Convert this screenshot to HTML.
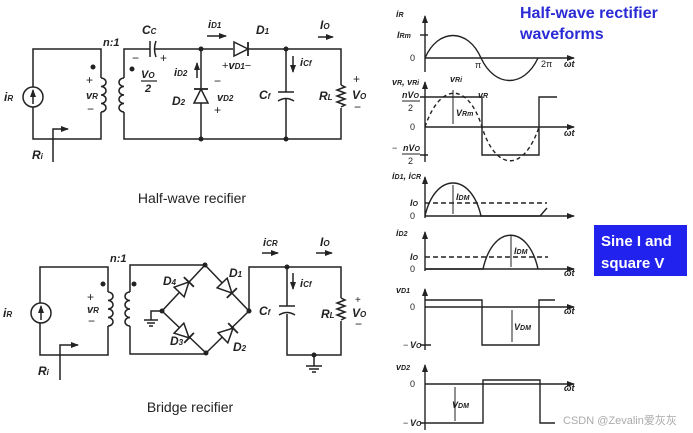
<!DOCTYPE html>
<html><head><style>
html,body{margin:0;padding:0;background:#fff}
svg{display:block}
text{font-family:"Liberation Sans",sans-serif;font-style:italic;font-weight:bold;fill:#222}
.n{font-style:normal;font-weight:normal}
</style></head><body>
<svg width="693" height="433" viewBox="0 0 693 433" xmlns="http://www.w3.org/2000/svg">
<defs>
<marker id="ar" markerWidth="8" markerHeight="8" refX="7" refY="4" orient="auto" markerUnits="userSpaceOnUse"><path d="M0,1 L8,4 L0,7 z" fill="#222"/></marker>
<g id="dio"><path d="M-7,-7 L7,0 L-7,7 z" fill="#fff" stroke="#222" stroke-width="1.5"/><path d="M7,-7 L7,7" stroke="#222" stroke-width="1.8"/></g>
</defs>
<g stroke="#222" stroke-width="1.5" fill="none">
<!-- HALF WAVE -->
<path d="M33,87 V49 H101 V78 M101,112 V139 H33 V107"/>
<circle cx="33" cy="97" r="10"/>
<path d="M33,104 V90" marker-end="url(#ar)"/>
<path d="M101,78 a5,4.25 0 0 1 0,8.5 a5,4.25 0 0 1 0,8.5 a5,4.25 0 0 1 0,8.5 a5,4.25 0 0 1 0,8.5"/>
<path d="M124,78 a5,4.25 0 0 0 0,8.5 a5,4.25 0 0 0 0,8.5 a5,4.25 0 0 0 0,8.5 a5,4.25 0 0 0 0,8.5"/>
<path d="M124,78 V49 H150 M155,49 H233 M124,112 V139 H341 V108 M341,85 V49 H240"/>
<path d="M150,41 V57"/><path d="M156,41 Q153,49 156,57"/>
<path d="M201,49 V139"/>
<path d="M286,49 V92 M286,99 V139 M278,92 H294 M278,101 Q286,96 294,101"/>
<path d="M341,85 l4,2 l-8,3 l8,3 l-8,3 l8,3 l-8,3 l8,3 l-4,2"/>
<path d="M53,162 V129 H68" marker-end="url(#ar)"/>
<path d="M207,36 H226" marker-end="url(#ar)"/>
<path d="M318,37 H333" marker-end="url(#ar)"/>
<path d="M197,78 V63" marker-end="url(#ar)"/>
<path d="M293,56 V72" marker-end="url(#ar)"/>
<!-- BRIDGE -->
<path d="M40,303 V267 H108 V292 M108,326 V355 H40 V323"/>
<circle cx="41" cy="313" r="10"/>
<path d="M41,320 V306" marker-end="url(#ar)"/>
<path d="M108,292 a5,4.25 0 0 1 0,8.5 a5,4.25 0 0 1 0,8.5 a5,4.25 0 0 1 0,8.5 a5,4.25 0 0 1 0,8.5"/>
<path d="M130,292 a5,4.25 0 0 0 0,8.5 a5,4.25 0 0 0 0,8.5 a5,4.25 0 0 0 0,8.5 a5,4.25 0 0 0 0,8.5"/>
<path d="M130,292 V265 H205 M205,265 L249,311 L206,353 L162,311 L205,265 M130,326 V354 H206"/>
<path d="M249,311 V267 H341 V298 M341,321 V355 H287 V314 M287,267 V306 M279,306 H295 M279,315 Q287,310 295,315"/>
<path d="M341,298 l4,2 l-8,3 l8,3 l-8,3 l8,3 l-8,3 l8,3 l-4,2"/>
<path d="M314,355 V366 M306,366 H322 M309,369 H319 M312,372 H316"/>
<path d="M162,311 H151 V320 M144,320 H158 M147,323 H155 M149,326 H153"/>
<path d="M60,380 V345 H78" marker-end="url(#ar)"/>
<path d="M262,253 H278" marker-end="url(#ar)"/>
<path d="M316,253 H332" marker-end="url(#ar)"/>
<path d="M293,273 V289" marker-end="url(#ar)"/>
</g>
<g fill="#222">
<circle cx="93" cy="67" r="2.5"/><circle cx="132" cy="69" r="2.5"/>
<circle cx="201" cy="49" r="2.5"/><circle cx="286" cy="49" r="2.5"/><circle cx="201" cy="139" r="2.5"/><circle cx="286" cy="139" r="2.5"/>
<circle cx="103" cy="284" r="2.5"/><circle cx="134" cy="284" r="2.5"/>
<circle cx="205" cy="265" r="2.5"/><circle cx="249" cy="311" r="2.5"/><circle cx="206" cy="353" r="2.5"/><circle cx="162" cy="311" r="2.5"/><circle cx="287" cy="267" r="2.5"/><circle cx="314" cy="355" r="2.5"/>
</g>
<use href="#dio" transform="translate(241,49)"/>
<use href="#dio" transform="translate(201,96) rotate(-90)"/>
<use href="#dio" transform="translate(184,287) rotate(-46)"/>
<use href="#dio" transform="translate(227,288) rotate(46)"/>
<use href="#dio" transform="translate(184,333) rotate(44)"/>
<use href="#dio" transform="translate(228,333) rotate(-44)"/>
<g font-size="12">
<text x="4" y="101">i<tspan font-size="8">R</tspan></text>
<text x="103" y="46" font-size="11">n:1</text>
<text x="86" y="84" class="n">+</text><text x="86" y="99" font-size="11">v<tspan font-size="8">R</tspan></text><text x="87" y="113" class="n">−</text>
<text x="142" y="34">C<tspan font-size="8">C</tspan></text>
<text x="132" y="62" class="n">−</text><text x="160" y="62" class="n">+</text>
<text x="141" y="78" font-size="11">V<tspan font-size="8">O</tspan></text><path d="M141,81 H157" stroke="#222" stroke-width="1.2"/><text x="145" y="92" font-size="11">2</text>
<text x="174" y="76" font-size="11">i<tspan font-size="8">D2</tspan></text>
<text x="172" y="105">D<tspan font-size="8">2</tspan></text>
<text x="214" y="85" class="n">−</text><text x="217" y="101" font-size="11">v<tspan font-size="8">D2</tspan></text><text x="214" y="114" class="n">+</text>
<text x="208" y="28" font-size="11">i<tspan font-size="8">D1</tspan></text>
<text x="256" y="34">D<tspan font-size="8">1</tspan></text>
<text x="222" y="69" font-size="11"><tspan class="n">+</tspan>v<tspan font-size="8">D1</tspan><tspan class="n">−</tspan></text>
<text x="320" y="29">I<tspan font-size="8">O</tspan></text>
<text x="300" y="66" font-size="11">i<tspan font-size="8">Cf</tspan></text>
<text x="259" y="99">C<tspan font-size="8">f</tspan></text>
<text x="319" y="100">R<tspan font-size="8">L</tspan></text>
<text x="353" y="83" class="n">+</text><text x="352" y="99">V<tspan font-size="8">O</tspan></text><text x="354" y="111" class="n">−</text>
<text x="32" y="159">R<tspan font-size="8">i</tspan></text>
<text x="3" y="317">i<tspan font-size="8">R</tspan></text>
<text x="110" y="262" font-size="11">n:1</text>
<text x="87" y="301" class="n">+</text><text x="87" y="313" font-size="11">v<tspan font-size="8">R</tspan></text><text x="88" y="325" class="n">−</text>
<text x="163" y="285">D<tspan font-size="8">4</tspan></text>
<text x="229" y="277">D<tspan font-size="8">1</tspan></text>
<text x="170" y="345">D<tspan font-size="8">3</tspan></text>
<text x="233" y="351">D<tspan font-size="8">2</tspan></text>
<text x="263" y="246" font-size="11">i<tspan font-size="8">CR</tspan></text>
<text x="320" y="246">I<tspan font-size="8">O</tspan></text>
<text x="300" y="287" font-size="11">i<tspan font-size="8">Cf</tspan></text>
<text x="259" y="315">C<tspan font-size="8">f</tspan></text>
<text x="321" y="318">R<tspan font-size="8">L</tspan></text>
<text x="355" y="303" class="n" font-size="10">+</text><text x="352" y="317">V<tspan font-size="8">O</tspan></text><text x="355" y="328" class="n">−</text>
<text x="38" y="375">R<tspan font-size="8">i</tspan></text>
</g>
<text x="192" y="203" class="n" font-size="14" text-anchor="middle">Half-wave recifier</text>
<text x="190" y="412" class="n" font-size="14" text-anchor="middle">Bridge recifier</text>
<!-- WAVEFORMS -->
<g stroke="#222" stroke-width="1.4" fill="none">
<path d="M425,72 V16" marker-end="url(#ar)"/><path d="M425,58 H574" marker-end="url(#ar)"/>
<path d="M420,35 H428"/>
<path d="M425,58 C438,28 468,28 481,58 C495,88 524,88 538,58"/>
<path d="M425,162 V82" marker-end="url(#ar)"/><path d="M425,127 H574" marker-end="url(#ar)"/>
<path d="M420,97 H425 M420,155 H428"/>
<path d="M425,97 H482 V155 H539 V97 H557"/>
<path d="M425,127 C440,82 468,82 482,127 C496,172 524,172 539,127" stroke-dasharray="4,3"/>
<path d="M453,110 V90 M453,110 V124" stroke-width="1"/>
<path d="M425,218 V177" marker-end="url(#ar)"/><path d="M425,216 H574" marker-end="url(#ar)"/>
<path d="M425,216 C435,172 471,172 481,216 H540 L547,208"/>
<path d="M425,203 H547" stroke-dasharray="5,3"/>
<path d="M453,185 V214" stroke-width="1"/>
<path d="M425,271 V232" marker-end="url(#ar)"/><path d="M425,269 H574" marker-end="url(#ar)"/>
<path d="M425,269 H483 C493,224 528,224 538,269"/>
<path d="M425,257 H548" stroke-dasharray="5,3"/>
<path d="M511,236 V267" stroke-width="1"/>
<path d="M425,350 V289" marker-end="url(#ar)"/><path d="M425,307 H574" marker-end="url(#ar)"/>
<path d="M425,300 H482 V345 H539 V300 H555 M420,345 H431"/>
<path d="M512,310 V342" stroke-width="1"/>
<path d="M425,430 V365" marker-end="url(#ar)"/><path d="M425,384 H574" marker-end="url(#ar)"/>
<path d="M425,423 H483 V380 H540 V423 H555 M420,423 H428"/>
<path d="M455,387 V421" stroke-width="1"/>
</g>
<g font-size="9">
<text x="396" y="17">i<tspan font-size="7">R</tspan></text>
<text x="397" y="38">I<tspan font-size="7">Rm</tspan></text>
<text x="410" y="61" class="n">0</text><text x="475" y="68" class="n">π</text><text x="541" y="67" class="n">2π</text><text x="564" y="67">ωt</text>
<text x="392" y="85">v<tspan font-size="7">R</tspan>, v<tspan font-size="7">Ri</tspan></text>
<text x="402" y="98">nV<tspan font-size="7">O</tspan></text><path d="M402,101 H420" stroke="#222"/><text x="408" y="111" class="n">2</text>
<text x="410" y="130" class="n">0</text><text x="564" y="136">ωt</text>
<text x="392" y="151" class="n">−</text><text x="403" y="151">nV<tspan font-size="7">O</tspan></text><path d="M402,154 H420" stroke="#222"/><text x="408" y="164" class="n">2</text>
<text x="450" y="82">v<tspan font-size="7">Ri</tspan></text><text x="478" y="98">v<tspan font-size="7">R</tspan></text>
<text x="456" y="116">V<tspan font-size="7">Rm</tspan></text>
<text x="392" y="179">i<tspan font-size="7">D1</tspan>, i<tspan font-size="7">CR</tspan></text>
<text x="410" y="206">I<tspan font-size="7">O</tspan></text><text x="410" y="219" class="n">0</text>
<text x="456" y="200">I<tspan font-size="7">DM</tspan></text>
<text x="396" y="236">i<tspan font-size="7">D2</tspan></text>
<text x="410" y="260">I<tspan font-size="7">O</tspan></text><text x="410" y="272" class="n">0</text>
<text x="514" y="254">I<tspan font-size="7">DM</tspan></text><text x="564" y="276">ωt</text>
<text x="396" y="293">v<tspan font-size="7">D1</tspan></text><text x="410" y="310" class="n">0</text>
<text x="514" y="330">V<tspan font-size="7">DM</tspan></text><text x="564" y="314">ωt</text>
<text x="403" y="348" class="n">−</text><text x="410" y="348">V<tspan font-size="7">O</tspan></text>
<text x="396" y="370">v<tspan font-size="7">D2</tspan></text><text x="410" y="387" class="n">0</text>
<text x="452" y="408">V<tspan font-size="7">DM</tspan></text><text x="564" y="391">ωt</text>
<text x="403" y="426" class="n">−</text><text x="410" y="426">V<tspan font-size="7">O</tspan></text>
</g>
<text x="520" y="18" class="n" font-size="16" style="font-weight:bold;fill:#2b2bd6">Half-wave rectifier</text>
<text x="520" y="39" class="n" font-size="16" style="font-weight:bold;fill:#2b2bd6">waveforms</text>
<rect x="594" y="225" width="93" height="51" fill="#2222ee"/>
<text x="601" y="246" class="n" font-size="15" style="font-weight:bold;fill:#fff">Sine I and</text>
<text x="601" y="268" class="n" font-size="15" style="font-weight:bold;fill:#fff">square V</text>
<text x="563" y="424" class="n" font-size="11" style="fill:#aaa">CSDN @Zevalin<tspan font-family="Noto Sans CJK SC">爱灰灰</tspan></text>
</svg>
</body></html>
